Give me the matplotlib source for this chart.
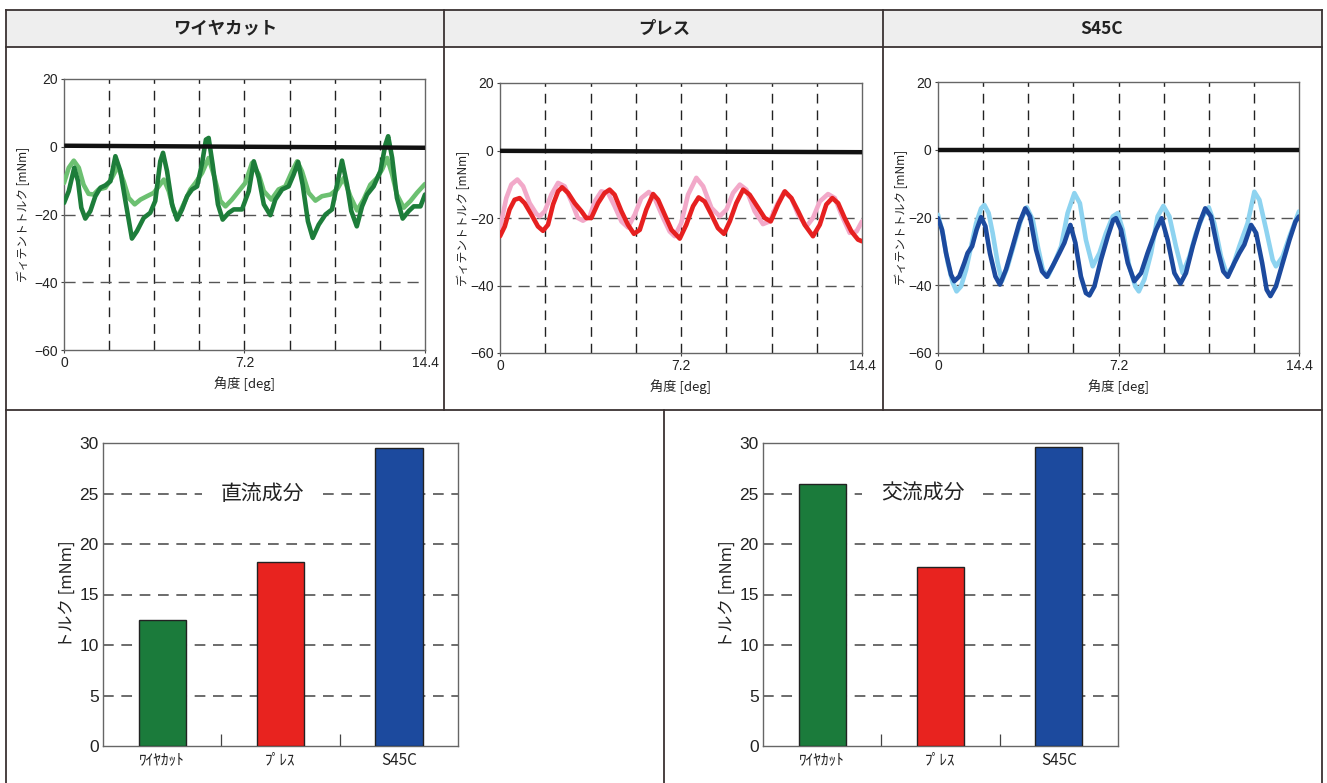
import matplotlib
matplotlib.use("Agg")
import matplotlib.pyplot as plt
from matplotlib.patches import Rectangle
from matplotlib.lines import Line2D

plt.rcParams['font.family'] = ['Noto Sans CJK JP', 'DejaVu Sans']
DIGITS = ['Liberation Sans', 'DejaVu Sans']
JP = ['Noto Sans CJK JP', 'DejaVu Sans']

# ---------------- data ----------------
panel_titles = ["ワイヤカット", "プレス", "S45C"]
x_ticks = [0, 7.2, 14.4]
x_tick_labels = ["0", "7.2", "14.4"]
y_ticks = [20, 0, -20, -40, -60]
v_grid = [1.8, 3.6, 5.4, 7.2, 9.0, 10.8, 12.6]
h_grid = [-20, -40]

zero1_x = [0.1, 14.4]; zero1_y = [0.3, -0.3]
zero2_x = [0.05, 14.35]; zero2_y = [-0.1, -0.5]
zero3_x = [0.0, 14.4]; zero3_y = [0.0, 0.0]

# wire cut (dark green)
wc1_x = [0, 0.19, 0.41, 0.56, 0.69, 0.85, 1.05, 1.25, 1.45, 1.65, 1.85, 2.05, 2.25, 2.45,
         2.71, 2.91, 3.18, 3.44, 3.64, 3.84, 3.95, 4.11, 4.31, 4.51, 4.71, 4.91, 5.11, 5.31,
         5.51, 5.66, 5.77, 5.93, 6.14, 6.33, 6.57, 6.77, 7.10, 7.37, 7.57, 7.77, 7.97, 8.23,
         8.43, 8.70, 8.96, 9.16, 9.34, 9.52, 9.73, 9.92, 10.16, 10.43, 10.69, 10.89, 11.09,
         11.29, 11.46, 11.68, 11.89, 12.09, 12.35, 12.62, 12.82, 12.93, 13.09, 13.28, 13.51,
         13.75, 13.95, 14.22, 14.40]
wc1_y = [-16.6, -13.1, -6.2, -10.2, -18.0, -21.2, -19.0, -14.6, -12.1, -11.4, -10.2, -2.8,
         -7.2, -16.0, -27.1, -24.9, -21.0, -19.5, -16.0, -4.3, -1.8, -7.2, -17.0, -21.5,
         -18.5, -14.6, -12.6, -11.7, -4.8, 2.1, 2.6, -5.3, -17.0, -21.5, -19.5, -18.5, -18.5,
         -13.1, -4.3, -9.2, -17.0, -20.2, -15.6, -12.6, -11.7, -8.2, -4.5, -11.2, -22.0,
         -26.9, -23.0, -20.0, -18.5, -11.2, -4.1, -11.2, -19.0, -23.5, -17.6, -14.1, -11.7,
         -7.2, 0.6, 3.1, -3.3, -15.1, -21.2, -19.0, -17.6, -17.6, -14.1]
# wire cut (light green)
wc2_x = [0, 0.19, 0.39, 0.59, 0.78, 0.98, 1.18, 1.38, 1.65, 1.91, 2.15, 2.38, 2.58, 2.82,
         3.05, 3.31, 3.58, 3.78, 3.98, 4.18, 4.38, 4.55, 4.77, 5.04, 5.24, 5.51, 5.77, 6.01,
         6.24, 6.44, 6.70, 6.97, 7.23, 7.50, 7.77, 7.97, 8.27, 8.56, 8.83, 9.10, 9.30, 9.49,
         9.76, 10.03, 10.29, 10.63, 10.89, 11.16, 11.42, 11.69, 11.95, 12.22, 12.49, 12.69,
         12.89, 13.09, 13.28, 13.55, 13.82, 14.08, 14.40]
wc2_y = [-10.7, -6.2, -4.1, -6.2, -11.2, -13.9, -14.1, -12.6, -12.1, -9.2, -5.8, -10.2,
         -15.1, -17.0, -15.6, -14.6, -13.6, -11.7, -9.7, -13.1, -19.0, -20.5, -17.0, -12.6,
         -10.7, -7.7, -3.3, -9.2, -16.0, -17.6, -15.6, -13.1, -10.7, -4.8, -8.2, -13.1,
         -15.6, -12.6, -11.7, -7.2, -4.3, -7.2, -13.6, -15.9, -14.6, -14.1, -12.6, -9.2,
         -14.6, -18.8, -15.6, -11.2, -9.2, -6.7, -3.3, -8.2, -14.1, -18.0, -16.0, -13.6, -11.0]

# press (red)
pr1_x = [0, 0.19, 0.38, 0.58, 0.78, 0.98, 1.25, 1.51, 1.71, 1.91, 2.11, 2.31, 2.47, 2.71,
         2.97, 3.24, 3.43, 3.63, 3.90, 4.16, 4.36, 4.56, 4.83, 5.09, 5.33, 5.56, 5.82, 6.09,
         6.29, 6.55, 6.82, 7.15, 7.41, 7.68, 7.90, 8.14, 8.41, 8.67, 8.91, 9.14, 9.40, 9.67,
         9.93, 10.27, 10.53, 10.77, 11.06, 11.33, 11.59, 11.86, 12.12, 12.45, 12.72, 12.98,
         13.22, 13.45, 13.71, 13.98, 14.24, 14.40]
pr1_y = [-25.4, -22.5, -17.5, -14.6, -14.1, -15.6, -19.0, -22.5, -23.8, -22.0, -16.0, -12.1,
         -10.9, -12.6, -15.6, -18.0, -20.0, -20.0, -15.6, -12.6, -11.6, -13.1, -18.0, -22.0,
         -24.7, -23.5, -17.5, -12.9, -14.6, -19.0, -23.5, -26.1, -22.0, -16.5, -13.9, -15.1,
         -19.0, -23.0, -24.7, -21.0, -15.6, -11.6, -13.1, -17.0, -20.0, -21.0, -16.0, -12.1,
         -14.1, -18.0, -22.0, -25.4, -22.0, -16.0, -14.1, -15.6, -20.0, -24.0, -26.4, -26.9]
# press (pink)
pr2_x = [0, 0.25, 0.45, 0.69, 0.92, 1.18, 1.45, 1.58, 1.78, 2.04, 2.31, 2.57, 2.84, 3.10,
         3.30, 3.57, 3.77, 4.03, 4.30, 4.56, 4.83, 5.09, 5.36, 5.62, 5.92, 6.15, 6.49, 6.75,
         6.95, 7.21, 7.48, 7.81, 8.08, 8.41, 8.74, 9.01, 9.27, 9.54, 9.80, 10.13, 10.46,
         10.73, 10.99, 11.30, 11.59, 11.86, 12.19, 12.45, 12.72, 13.05, 13.32, 13.58, 13.91,
         14.18, 14.40]
pr2_y = [-23.0, -14.1, -10.1, -8.6, -10.6, -15.6, -18.8, -19.5, -18.0, -13.1, -9.6, -10.6,
         -15.1, -20.0, -20.8, -19.5, -15.1, -12.1, -12.6, -16.5, -21.0, -22.8, -19.0, -14.1,
         -12.3, -14.1, -20.0, -24.0, -25.4, -21.5, -13.1, -8.1, -10.6, -17.0, -19.5, -17.5,
         -12.6, -10.1, -11.6, -18.0, -21.8, -21.0, -16.5, -12.3, -14.1, -19.0, -22.5, -20.0,
         -15.1, -12.9, -14.1, -19.0, -24.4, -24.0, -21.0]

# S45C (dark blue)
s1_x = [0, 0.16, 0.32, 0.52, 0.65, 0.85, 1.05, 1.18, 1.36, 1.54, 1.72, 1.89, 2.07, 2.29,
        2.47, 2.71, 2.98, 3.24, 3.48, 3.67, 3.91, 4.15, 4.34, 4.57, 4.84, 5.04, 5.28, 5.48,
        5.70, 5.90, 6.04, 6.24, 6.50, 6.77, 6.99, 7.10, 7.30, 7.57, 7.83, 8.10, 8.36, 8.70,
        8.92, 9.16, 9.43, 9.67, 9.89, 10.16, 10.43, 10.66, 10.89, 11.16, 11.38, 11.56, 11.82,
        12.02, 12.22, 12.49, 12.69, 12.93, 13.11, 13.26, 13.48, 13.75, 14.02, 14.26, 14.40]
s1_y = [-20.2, -23.6, -30.5, -36.9, -38.8, -37.4, -33.4, -30.5, -28.5, -23.6, -19.9, -22.6,
        -30.5, -37.4, -39.8, -35.4, -28.5, -21.7, -17.3, -19.7, -29.5, -35.9, -37.5, -34.4,
        -30.5, -27.5, -22.2, -27.5, -37.4, -42.3, -43.0, -40.3, -32.5, -25.6, -20.7, -20.2,
        -23.6, -33.4, -38.8, -36.4, -30.5, -23.6, -20.2, -26.6, -36.4, -39.5, -36.4, -28.5,
        -21.7, -17.3, -19.7, -29.5, -35.9, -37.5, -33.4, -30.5, -28.0, -22.2, -24.6, -33.4,
        -41.3, -43.2, -40.3, -33.4, -26.6, -21.2, -19.7]
# S45C (light blue)
s2_x = [0, 0.19, 0.39, 0.59, 0.74, 0.92, 1.12, 1.32, 1.52, 1.72, 1.85, 2.02, 2.18, 2.38,
        2.55, 2.78, 3.05, 3.31, 3.54, 3.78, 3.98, 4.18, 4.38, 4.64, 4.91, 5.17, 5.44, 5.66,
        5.90, 6.17, 6.44, 6.70, 6.97, 7.17, 7.37, 7.63, 7.87, 8.01, 8.23, 8.50, 8.76, 8.99,
        9.23, 9.49, 9.76, 10.03, 10.29, 10.56, 10.80, 11.02, 11.29, 11.52, 11.76, 12.02,
        12.35, 12.62, 12.82, 13.09, 13.35, 13.48, 13.75, 14.02, 14.40]
s2_y = [-19.2, -24.6, -33.4, -39.3, -41.8, -40.3, -35.4, -28.5, -21.7, -17.3, -16.3, -18.7,
        -24.6, -33.4, -38.8, -34.4, -27.5, -20.7, -17.0, -20.7, -28.5, -35.4, -37.4, -33.4,
        -28.5, -18.7, -12.8, -15.8, -26.6, -34.4, -30.5, -24.6, -19.7, -18.7, -23.6, -34.4,
        -40.3, -41.8, -38.3, -30.5, -19.7, -16.6, -19.7, -28.5, -36.4, -31.5, -24.6, -19.7,
        -17.0, -21.7, -31.5, -36.9, -34.4, -28.5, -21.7, -12.4, -14.8, -23.6, -32.5, -34.4,
        -31.5, -25.6, -18.2]

bar_categories = ["ﾜｲﾔｶｯﾄ", "ﾌﾟﾚｽ", "S45C"]
dc_values = [12.5, 18.2, 29.5]
ac_values = [25.9, 17.7, 29.6]
bar_colors = ["#1b7b3b", "#e8231f", "#1c4a9e"]
bar_titles = ["直流成分", "交流成分"]
bar_yticks = [0, 5, 10, 15, 20, 25, 30]

# ---------------- figure ----------------
W, H = 1327, 783
fig = plt.figure(figsize=(W / 100, H / 100), dpi=100)
fig.patch.set_facecolor("white")

def fx(px):
    return px / W

def fy(py):
    return 1 - py / H

def rect_px(l, t, r, b):
    return [fx(l), fy(b), fx(r) - fx(l), fy(t) - fy(b)]

FRAME = "#3a3232"
fig.add_artist(Rectangle((fx(6), fy(47)), fx(1322) - fx(6), fy(10) - fy(47),
                         transform=fig.transFigure, facecolor="#eeeeee",
                         edgecolor="none", zorder=0))

def hline(y, x0, x1):
    fig.add_artist(Line2D([fx(x0), fx(x1)], [fy(y), fy(y)], transform=fig.transFigure,
                          color=FRAME, lw=1.3, zorder=1))

def vline(x, y0, y1):
    fig.add_artist(Line2D([fx(x), fx(x)], [fy(y0), fy(y1)], transform=fig.transFigure,
                          color=FRAME, lw=1.3, zorder=1))

hline(10, 6, 1322)
hline(47, 6, 1322)
hline(410, 6, 1322)
vline(6, 10, 783)
vline(1322, 10, 783)
vline(444, 10, 410)
vline(883, 10, 410)
vline(664, 410, 783)

header_centers = [225, 664, 1102]
for cx, title in zip(header_centers, panel_titles):
    fig.text(fx(cx), fy(28.5), title, ha="center", va="center", fontsize=12.5,
             fontweight="bold", family=JP, color="#222222")

# ---------------- waveform panels ----------------
wave_rects = [(64, 79, 425, 350), (500, 83, 862, 353), (938, 82, 1299, 353)]
wave_series = [
    [(wc2_x, wc2_y, "#6cc071"), (wc1_x, wc1_y, "#1d7d3a")],
    [(pr2_x, pr2_y, "#f2a9c9"), (pr1_x, pr1_y, "#e62020")],
    [(s2_x, s2_y, "#8ed3f0"), (s1_x, s1_y, "#1c4a9e")],
]
zeros = [(zero1_x, zero1_y), (zero2_x, zero2_y), (zero3_x, zero3_y)]
ylabel_x = [-0.094, -0.083, -0.083]

for (l, t, r, b), series, (zx, zy), ylx in zip(wave_rects, wave_series, zeros, ylabel_x):
    ax = fig.add_axes(rect_px(l, t, r, b))
    ax.set_xlim(0, 14.4)
    ax.set_ylim(-60, 20)
    for gx in v_grid:
        ax.axvline(gx, color="#222222", lw=1.0, ls=(0, (7, 5)), zorder=1)
    for gy in h_grid:
        ax.axhline(gy, color="#555555", lw=1.0, ls=(0, (8, 5)), zorder=1)
    for sx, sy, c in series:
        ax.plot(sx, sy, color=c, lw=3.3, solid_joinstyle="round",
                solid_capstyle="round", zorder=3)
    ax.plot(zx, zy, color="#111111", lw=3.2, zorder=4)
    ax.set_xticks(x_ticks)
    ax.set_xticklabels(x_tick_labels)
    ax.set_yticks(y_ticks)
    ax.tick_params(axis="both", direction="out", length=2.5, width=0.8, color="#444444",
                   labelsize=10, pad=2, labelcolor="#222222")
    for lab in ax.get_xticklabels() + ax.get_yticklabels():
        lab.set_family(DIGITS)
    for s in ax.spines.values():
        s.set_color("#666666")
        s.set_linewidth(1.0)
    ax.set_xlabel("角度 [deg]", fontsize=9.5, family=JP, labelpad=4, color="#222222")
    ax.set_ylabel("ディテントトルク [mNm]", fontsize=8.5, family=JP, color="#222222")
    ax.yaxis.set_label_coords(ylx, 0.5)

# ---------------- bar panels ----------------
bar_rects = [(103, 443, 458, 746), (763, 443, 1118, 746)]
for (l, t, r, b), vals, title in zip(bar_rects, [dc_values, ac_values], bar_titles):
    ax = fig.add_axes(rect_px(l, t, r, b))
    ax.set_xlim(-0.5, 2.5)
    ax.set_ylim(0, 30)
    for gy in bar_yticks[1:-1]:
        ax.axhline(gy, color="#444444", lw=1.1, ls=(0, (7, 5)), zorder=1)
    pos = list(range(len(bar_categories)))
    ax.bar(pos, vals, width=0.4, color=bar_colors, edgecolor="#222222", linewidth=1.0,
           zorder=3)
    ax.text(0.85, 25, title, ha="center", va="center", fontsize=15, family=JP,
            color="#222222", zorder=4,
            bbox=dict(boxstyle="square,pad=0.9", facecolor="white", edgecolor="none"))
    ax.set_yticks(bar_yticks)
    ax.set_yticklabels([str(v) for v in bar_yticks])
    ax.tick_params(axis="y", length=0, labelsize=12.5, pad=3, labelcolor="#222222")
    ax.set_xticks(pos)
    ax.set_xticklabels(bar_categories)
    ax.tick_params(axis="x", length=0, labelsize=11, pad=4, labelcolor="#222222")
    ax.set_xticks([0.5, 1.5], minor=True)
    ax.tick_params(axis="x", which="minor", direction="in", length=9, width=0.9,
                   color="#444444")
    for lab in ax.get_yticklabels():
        lab.set_family(DIGITS)
    for lab in ax.get_xticklabels():
        lab.set_family(JP)
    for s in ax.spines.values():
        s.set_color("#666666")
        s.set_linewidth(1.0)
    ax.set_ylabel("トルク [mNm]", fontsize=12, family=JP, color="#222222")
    ax.yaxis.set_label_coords(-0.078, 0.5)

fig.savefig("out.png", dpi=100, facecolor="white")
